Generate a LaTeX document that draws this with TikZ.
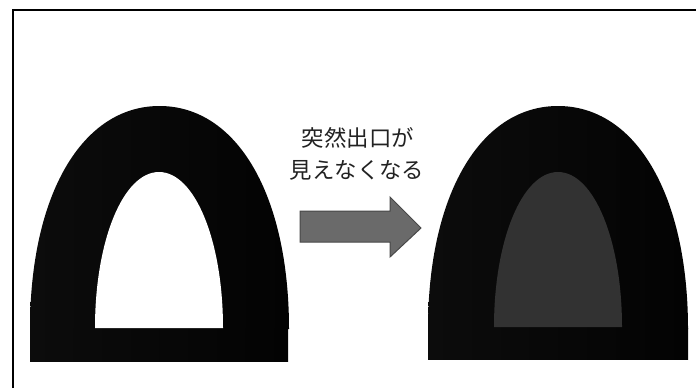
\documentclass[tikz,border=0pt]{standalone}
\usepackage{fontspec}
\newfontfamily\jpfont{Noto Sans CJK JP}
\definecolor{archL}{HTML}{0C0C0C}
\definecolor{archR}{HTML}{030303}
\definecolor{darkexit}{HTML}{323232}
\definecolor{arrowfill}{HTML}{6A6A6A}
\definecolor{arrowline}{HTML}{484848}
\definecolor{txt}{HTML}{222222}
\tikzset{
  archshade/.style={left color=archL, right color=archR, shading angle=90},
  label/.style={font=\jpfont\fontsize{22.5}{26}\selectfont, text=txt, inner sep=0pt},
}
\newcommand{\myarch}[5]{% left, right, topY, baseY, k
  (#1,#4) .. controls (#1,{#4-#5*(#4-#3)}) and ({(#1+#2)/2-#5*(#2-#1)/2},#3) .. ({(#1+#2)/2},#3)
  .. controls ({(#1+#2)/2+#5*(#2-#1)/2},#3) and (#2,{#4-#5*(#4-#3)}) .. (#2,#4) -- cycle}
\begin{document}
\begin{tikzpicture}[x=1bp,y=-1bp]
\useasboundingbox (0,0) rectangle (696,388);
\fill[white] (0,0) rectangle (696,388);
% frame (only top and left edges visible)
\draw[line width=1.6bp] (13,388) -- (13,10) -- (696,10);
% left tunnel
\shade[archshade] \myarch{30}{289}{106}{329}{0.6};
\shade[archshade] (30,328) rectangle (288,361);
\fill[white] \myarch{95}{223}{172}{328}{0.56};
% right tunnel
\shade[archshade] \myarch{428}{688}{106}{329}{0.6};
\shade[archshade] (428,328) rectangle (688,359);
\fill[darkexit] \myarch{494}{622}{172}{327}{0.56};
% arrow
\filldraw[fill=arrowfill, draw=arrowline, line width=1bp]
  (300,211) -- (390,211) -- (390,197) -- (421,228) -- (390,257) -- (390,242) -- (300,242) -- cycle;
% text
\node[label] (l1) at (358,138) {突然出口が};
\node[label] (l2) at (357,170) {見えなくなる};
\end{tikzpicture}
\end{document}
